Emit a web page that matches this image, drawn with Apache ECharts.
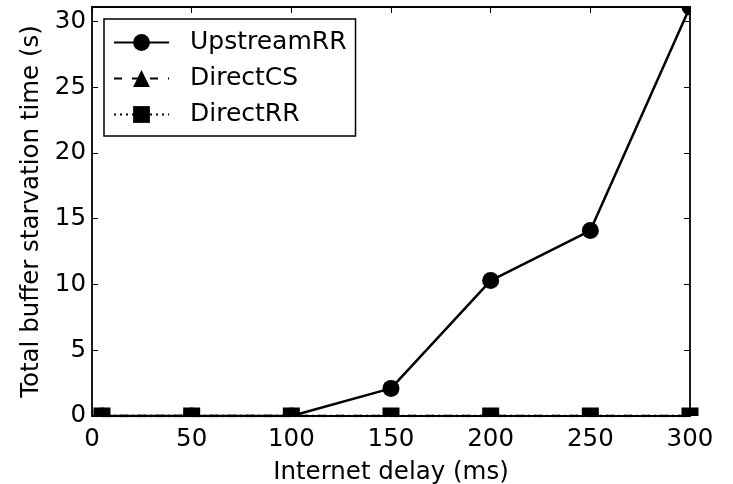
<!DOCTYPE html>
<html>
<head>
<meta charset="utf-8">
<script src="https://cdn.jsdelivr.net/npm/echarts@6/dist/echarts.min.js"></script>
<style>
html,body{margin:0;padding:0;background:#fff;}
#chart{width:733px;height:484px;}
</style>
</head>
<body>
<div id="chart"></div>
<script>
// ---- data ----
const xValues = [5, 50, 100, 150, 200, 250, 300];
const upstreamRR = [0, 0, 0, 2.1, 10.3, 14.1, 31.1];
const directCS = [0, 0, 0, 0, 0, 0, 0];
const directRR = [0, 0, 0, 0, 0, 0, 0];
const xTicks = [0, 50, 100, 150, 200, 250, 300];
const yTicks = [0, 5, 10, 15, 20, 25, 30];
const seriesNames = ['UpstreamRR', 'DirectCS', 'DirectRR'];
const xMin = 0, xMax = 300, yMin = 0, yMax = 31.1;

// ---- styling ----
const FONT = 'DejaVu Sans';
const MS = 17; // marker size
const halfShapes = {
  circle: 'path://M0,10 A10,10 0 0,1 20,10 Z',
  triangle: 'path://M10,0 L20,20 L0,20 Z',
  rect: 'rect'
};
const quarterCircle = 'path://M0,0 L10,0 L10,10 A10,10 0 0,1 0,0 Z';

// clip markers to the axes box like the original
function buildData(ys, shape) {
  return xValues.map((x, i) => {
    const y = ys[i];
    const item = { value: [x, y] };
    if (y <= yMin) {
      item.symbol = halfShapes[shape];
      item.symbolSize = shape === 'triangle' ? [MS / 2, MS / 2] : [MS, MS / 2];
      item.symbolOffset = [0, -MS / 4];
    } else if (y >= yMax && x >= xMax && shape === 'circle') {
      item.symbol = quarterCircle;
      item.symbolSize = [MS / 2, MS / 2];
      item.symbolOffset = [-MS / 4, MS / 4];
    }
    return item;
  });
}

const axisCommon = {
  axisLine: { show: true, onZero: false, lineStyle: { color: '#000', width: 1.8 } },
  axisTick: { show: true, inside: true, length: 6, lineStyle: { color: '#000', width: 1 } },
  splitLine: { show: false }
};

const chart = echarts.init(document.getElementById('chart'), null, { renderer: 'canvas' });
chart.setOption({
  backgroundColor: '#fff',
  animation: false,
  grid: { left: 92, right: 43, top: 7, bottom: 68, containLabel: false, outerBoundsMode: 'none' },
  legend: {
    left: 104, top: 19,
    orient: 'vertical',
    data: seriesNames,
    itemWidth: 55, itemHeight: 21,
    itemGap: 11,
    padding: [11, 9, 9, 9],
    borderColor: '#000', borderWidth: 1.5, borderRadius: 0,
    backgroundColor: '#fff',
    textStyle: { fontFamily: FONT, fontSize: 25, color: '#000', padding: [0, 0, 0, 16] }
  },
  xAxis: [
    Object.assign({
      type: 'value', min: xMin, max: xMax, interval: 50,
      name: 'Internet delay (ms)', nameLocation: 'middle', nameGap: 44,
      nameTextStyle: { fontFamily: FONT, fontSize: 24.5, color: '#000' },
      axisLabel: { fontFamily: FONT, fontSize: 24.5, color: '#000', margin: 11,
        formatter: v => xTicks.includes(v) ? String(v) : '' }
    }, axisCommon),
    Object.assign({
      type: 'value', position: 'top', min: xMin, max: xMax, interval: 50,
      axisLabel: { show: false }
    }, axisCommon)
  ],
  yAxis: [
    Object.assign({
      type: 'value', min: yMin, max: yMax, interval: 5,
      name: 'Total buffer starvation time (s)', nameLocation: 'middle', nameGap: 43,
      nameTextStyle: { fontFamily: FONT, fontSize: 24.5, color: '#000' },
      axisLabel: { fontFamily: FONT, fontSize: 24.5, color: '#000', margin: 6,
        formatter: v => yTicks.includes(v) ? String(v) : '' }
    }, axisCommon),
    Object.assign({
      type: 'value', position: 'right', min: yMin, max: yMax, interval: 5,
      axisLabel: { show: false }
    }, axisCommon)
  ],
  series: [
    {
      name: seriesNames[0], type: 'line', clip: true,
      symbol: 'circle', symbolSize: MS,
      itemStyle: { color: '#000' },
      lineStyle: { color: '#000', width: 2.5, type: 'solid' },
      data: buildData(upstreamRR, 'circle'), z: 3
    },
    {
      name: seriesNames[1], type: 'line', clip: true,
      symbol: 'triangle', symbolSize: MS,
      itemStyle: { color: '#000' },
      lineStyle: { color: '#000', width: 2.5, type: [8, 10] },
      data: buildData(directCS, 'triangle'), z: 4
    },
    {
      name: seriesNames[2], type: 'line', clip: true,
      symbol: 'rect', symbolSize: MS,
      itemStyle: { color: '#000' },
      lineStyle: { color: '#000', width: 2.5, type: [2, 4] },
      data: buildData(directRR, 'rect'), z: 5
    }
  ]
});
</script>
</body>
</html>
